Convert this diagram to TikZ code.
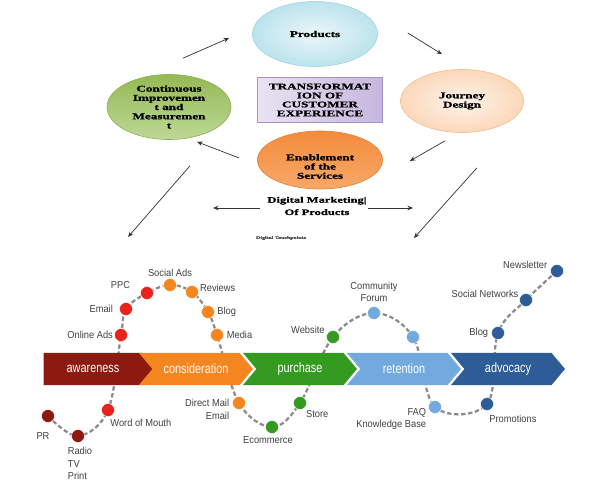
\documentclass[tikz,border=0pt]{standalone}
\usepackage{fontspec}
\setmainfont{Liberation Serif}
\setsansfont{Liberation Sans}
\newfontfamily\headfont[FakeStretch=1.5, BoldFeatures={FakeBold=1.2}]{Liberation Serif}
\newfontfamily\lblfont[FakeStretch=0.92]{Liberation Sans}
\newfontfamily\chevfont[FakeStretch=0.8]{Liberation Sans}
\usepackage{tikz}
\usetikzlibrary{positioning, arrows.meta, shapes.geometric, shapes.symbols, calc, backgrounds}
\usepackage{xcolor}

\definecolor{awcol}{HTML}{8C1A10}
\definecolor{awred}{HTML}{E8231B}
\definecolor{cocol}{HTML}{F5851F}
\definecolor{pucol}{HTML}{349A20}
\definecolor{recol}{HTML}{72A9DE}
\definecolor{adcol}{HTML}{2D5C96}
\definecolor{prodin}{HTML}{EAF7FA}
\definecolor{prodout}{HTML}{BCE3EC}
\definecolor{prodline}{HTML}{A3D5E2}
\definecolor{jourin}{HTML}{FEF3EA}
\definecolor{jourout}{HTML}{FBD8BA}
\definecolor{jourline}{HTML}{F5BE8E}
\definecolor{conttop}{HTML}{95B954}
\definecolor{contbot}{HTML}{BDD896}
\definecolor{contline}{HTML}{8DB255}
\definecolor{enabtop}{HTML}{F48C3C}
\definecolor{enabbot}{HTML}{F8A868}
\definecolor{enabline}{HTML}{E57F2E}
\definecolor{transl}{HTML}{E9E3F2}
\definecolor{transr}{HTML}{C6B6DE}
\definecolor{transline}{HTML}{A592C8}

\begin{document}
\begin{tikzpicture}[
        x=0.04cm, y=-0.04cm,
        node distance = 1mm,
        oval/.style  = {ellipse, draw, line width=0.7pt, align=center, inner sep=0pt,
                        font=\headfont\bfseries\fontsize{10}{10.5}\selectfont},
        arrow/.style = {-{Stealth[length=2.2mm, width=1.8mm]}, line width=0.8pt, draw=black!80},
        chev/.style  = {signal, signal to=east, signal pointer angle=100, minimum height=1.28cm,
                        minimum width=4.56cm, inner sep=0pt, text=white,
                        font=\chevfont\fontsize{15.5}{15.5}\selectfont},
        dot/.style   = {circle, minimum size=0.52cm, inner sep=0pt, draw=white, line width=0.5pt},
        lbl/.style   = {inner sep=0pt, text=black!75, font=\lblfont\fontsize{11.5}{14}\selectfont},
        trail/.style = {draw=black!45, line width=2.6pt, dash pattern=on 5pt off 3pt},
    ]
        \useasboundingbox (0,0) rectangle (590,490);

        % customer experience cycle
        \node[oval, minimum width=5cm, minimum height=2.6cm, draw=prodline,
              inner color=prodin, outer color=prodout] (prod) at (315,34) {Products};
        \node[oval, minimum width=4.92cm, minimum height=2.52cm, draw=jourline,
              inner color=jourin, outer color=jourout] (jour) at (462,101) {Journey\\Design};
        \node[oval, minimum width=4.96cm, minimum height=2.6cm, draw=contline,
              top color=conttop, bottom color=contbot]
              (cont) at (169,107) {Continuous\\Improvemen\\t and\\Measuremen\\t};
        \node[oval, minimum width=5cm, minimum height=2.32cm, draw=enabline,
              top color=enabtop, bottom color=enabbot, text height=1.5cm]
              (enab) at (320,160) {Enablement\\of the\\Services};
        \node[draw=transline, line width=1pt, minimum width=5cm, minimum height=1.8cm,
              left color=transl, right color=transr, align=center, inner sep=0pt,
              font=\headfont\bfseries\fontsize{10}{10.2}\selectfont]
              (trans) at (320,100) {TRANSFORMAT\\ION OF\\CUSTOMER\\EXPERIENCE};
        \node[align=center, inner sep=0pt, font=\headfont\bfseries\fontsize{9.5}{14}\selectfont]
              (digm) at (317,206) {Digital Marketing|\\Of Products};
        \node[inner sep=0pt, text=black!70, font=\headfont\bfseries\fontsize{4.5}{4.5}\selectfont]
              (touch) at (281,238) {Digital Touchpoints};

        \coordinate (outl) at (128,237);
        \coordinate (outr) at (414,238);
        \coordinate (dmle) at (213,208);
        \coordinate (dmri) at (413,208);

        \draw[arrow] ($(cont.north)+(14,-16)$) -- ($(prod.west)+(-23,4)$);
        \draw[arrow] ($(prod.east)+(30,-1)$) -- ($(jour.north)+(-20,-15)$);
        \draw[arrow] ($(jour.south)+(-17,8)$) -- ($(enab.east)+(27,1)$);
        \draw[arrow] ($(enab.west)+(-18,-2)$) -- ($(cont.south)+(28,2)$);
        \draw[arrow] ($(cont.south)+(21,26)$) -- (outl);
        \draw[arrow] ($(jour.south)+(15,35)$) -- (outr);
        \draw[arrow] ($(digm.west)+(-7,2)$) -- (dmle);
        \draw[arrow] ($(digm.east)+(1,2)$) -- (dmri);

        % touchpoints
        \node[dot, fill=awcol] (pr)    at (48,416)  {};
        \node[dot, fill=awcol] (radio) at (78,436)  {};
        \node[dot, fill=awred] (wom)   at (108,410) {};
        \node[dot, fill=awred] (oads)  at (121,335) {};
        \node[dot, fill=awred] (email) at (126,309) {};
        \node[dot, fill=awred] (ppc)   at (147,293) {};
        \node[dot, fill=cocol] (sads)  at (170,285) {};
        \node[dot, fill=cocol] (revw)  at (192,292) {};
        \node[dot, fill=cocol] (blogc) at (208,312) {};
        \node[dot, fill=cocol] (media) at (217,335) {};
        \node[dot, fill=cocol] (dmail) at (239,403) {};
        \node[dot, fill=pucol] (ecom)  at (272,427) {};
        \node[dot, fill=pucol] (store) at (300,403) {};
        \node[dot, fill=pucol] (web)   at (333,337) {};
        \node[dot, fill=recol] (comm)  at (374,313) {};
        \node[dot, fill=recol] (rete)  at (413,337) {};
        \node[dot, fill=recol] (faq)   at (435,407) {};
        \node[dot, fill=adcol] (promo) at (487,404) {};
        \node[dot, fill=adcol] (bloga) at (498,333) {};
        \node[dot, fill=adcol] (snet)  at (526,300) {};
        \node[dot, fill=adcol] (news)  at (557,271) {};

        \node[lbl, below=3.8mm of pr, xshift=-2mm] (l-pr) {PR};
        \node[lbl, below=1.8mm of radio, xshift=0.8mm, align=left] (l-radio) {Radio\\TV\\Print};
        \node[lbl, below right=1.5mm and -1mm of wom] (l-wom) {Word of Mouth};
        \node[lbl, left=0.5mm of oads] (l-oads) {Online Ads};
        \node[lbl, left=2.5mm of email] (l-email) {Email};
        \node[lbl, left=4mm of ppc, yshift=3mm] (l-ppc) {PPC};
        \node[lbl, above=0.6mm of sads] (l-sads) {Social Ads};
        \node[lbl, right=0.5mm of revw, yshift=1.6mm] (l-revw) {Reviews};
        \node[lbl, right=1mm of blogc] (l-blogc) {Blog};
        \node[lbl, right=1.2mm of media] (l-media) {Media};
        \node[lbl, left=1.2mm of dmail, yshift=-2.6mm, align=right] (l-dmail) {Direct Mail\\Email};
        \node[lbl, below=1.2mm of ecom, xshift=-1.6mm] (l-ecom) {Ecommerce};
        \node[lbl, below right=1mm and 0.5mm of store] (l-store) {Store};
        \node[lbl, left=0.6mm of web, yshift=2.8mm] (l-web) {Website};
        \node[lbl, above=1.8mm of comm, align=center] (l-comm) {Community\\Forum};
        \node[lbl, left=0.8mm of faq, yshift=-4.8mm, align=right] (l-faq) {FAQ\\Knowledge Base};
        \node[lbl, below right=2.6mm and -1mm of promo] (l-promo) {Promotions};
        \node[lbl, left=1.2mm of bloga] (l-bloga) {Blog};
        \node[lbl, left=0.3mm of snet, yshift=2.4mm] (l-snet) {Social Networks};
        \node[lbl, left=1.2mm of news, yshift=2.4mm] (l-news) {Newsletter};

        \begin{scope}[on background layer]
            \draw[trail] plot[smooth, tension=0.6] coordinates {(pr) (radio) (wom) (oads) (email)
                (ppc) (sads) (revw) (blogc) (media) (dmail) (ecom) (store) (web) (comm) (rete)
                (faq) (promo) (bloga) (snet) (news)};
            \node[chev, fill=awcol, minimum width=4.48cm] (aware) at (93,369) {awareness};
            \node[chev, fill=cocol, signal from=west] (consid) at (196,369) {consideration};
            \node[chev, fill=pucol, signal from=west] (purch)  at (300,369) {purchase};
            \node[chev, fill=recol, signal from=west] (retain) at (404,369) {retention};
            \node[chev, fill=adcol, signal from=west] (advoc)  at (508,369) {advocacy};
        \end{scope}
    \end{tikzpicture}
\end{document}
